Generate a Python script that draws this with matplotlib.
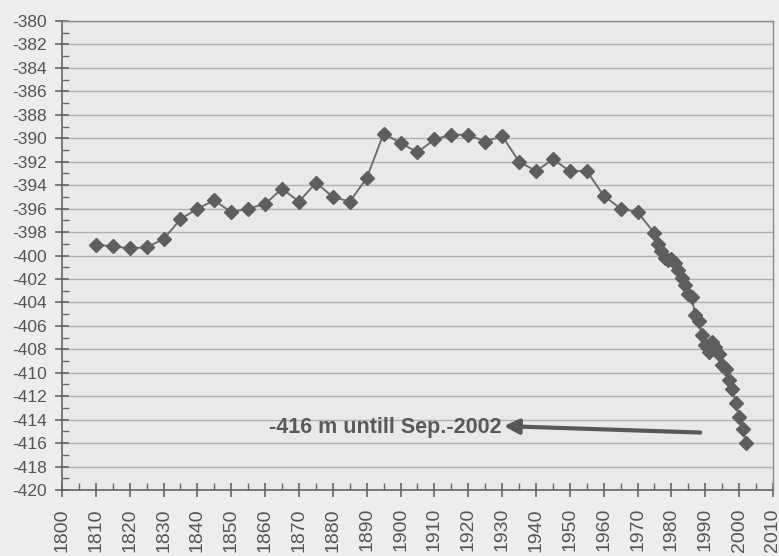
import matplotlib
matplotlib.use("Agg")
import matplotlib.pyplot as plt
import numpy as np

plt.rcParams['font.family'] = ['Liberation Sans', 'DejaVu Sans']
plt.rcParams['axes.unicode_minus'] = False

years = [1810, 1815, 1820, 1825, 1830, 1835, 1840, 1845, 1850, 1855, 1860, 1865,
         1870, 1875, 1880, 1885, 1890, 1895, 1900, 1905, 1910, 1915, 1920, 1925,
         1930, 1935, 1940, 1945, 1950, 1955, 1960, 1965, 1970, 1975,
         1976, 1977, 1978, 1979, 1980, 1981, 1982, 1983, 1984, 1985, 1986, 1987,
         1988, 1989, 1990, 1991, 1992, 1993, 1994, 1995, 1996, 1997, 1998, 1999,
         2000, 2001, 2002]
levels = [-399.1, -399.2, -399.4, -399.3, -398.6, -396.9, -396.0, -395.3, -396.3,
          -396.0, -395.6, -394.3, -395.4, -393.8, -395.0, -395.4, -393.4, -389.6,
          -390.4, -391.2, -390.1, -389.7, -389.7, -390.3, -389.8, -392.0, -392.8,
          -391.8, -392.8, -392.8, -394.9, -396.0, -396.3, -398.1,
          -399.0, -399.6, -400.2, -400.4, -400.3, -400.6, -401.2, -401.9, -402.5,
          -403.3, -403.5, -405.1, -405.6, -406.8, -407.6, -408.2, -407.4, -407.8,
          -408.4, -409.3, -409.7, -410.6, -411.4, -412.6, -413.8, -414.8, -416.0]

annot_text = "-416 m untill Sep.-2002"

fig = plt.figure(figsize=(7.79, 5.56), dpi=100)
fig.patch.set_facecolor('#ededed')
ax = fig.add_axes([62/779, 1 - 490/556, (773 - 62)/779, (490 - 21)/556])
ax.set_facecolor('#e9e9e9')

ax.plot(years, levels, color='#6e6e6e', lw=1.4, marker='D', markersize=7,
        markerfacecolor='#5e5e5e', markeredgecolor='#5e5e5e', zorder=3)

ax.set_xlim(1800, 2010)
ax.set_ylim(-420, -380)
ax.set_xticks(np.arange(1800, 2011, 10))
ax.set_xticks(np.arange(1805, 2010, 10), minor=True)
ax.set_yticks(np.arange(-420, -379, 2))
ax.set_yticks(np.arange(-419, -380, 2), minor=True)
ax.set_xticklabels([str(y) for y in range(1800, 2011, 10)], rotation=90)
ax.yaxis.grid(True, which='major', color='#b0b0b0', lw=1.0)
ax.set_axisbelow(True)

for s in ['top', 'right']:
    ax.spines[s].set_color('#8a8a8a')
    ax.spines[s].set_linewidth(1.0)
for s in ['left', 'bottom']:
    ax.spines[s].set_color('#666666')
    ax.spines[s].set_linewidth(1.2)

ax.tick_params(axis='both', which='major', direction='inout', length=10,
               width=1.2, color='#666666', labelcolor='#555555')
ax.tick_params(axis='both', which='minor', direction='in', length=5,
               width=1.0, color='#666666')
ax.tick_params(axis='y', which='major', labelsize=12.5, pad=6)
ax.tick_params(axis='x', which='major', labelsize=14, pad=8)

ax.annotate("", xy=(1930.5, -414.55), xytext=(1988.5, -415.1),
            arrowprops=dict(arrowstyle='-|>', color='#585858', lw=3,
                            mutation_scale=22, shrinkA=0, shrinkB=0))
ax.text(1929.8, -414.65, annot_text, ha='right', va='center', fontsize=15.5,
        fontweight='bold', color='#595959')

fig.savefig('out.png', dpi=100, facecolor=fig.get_facecolor())
